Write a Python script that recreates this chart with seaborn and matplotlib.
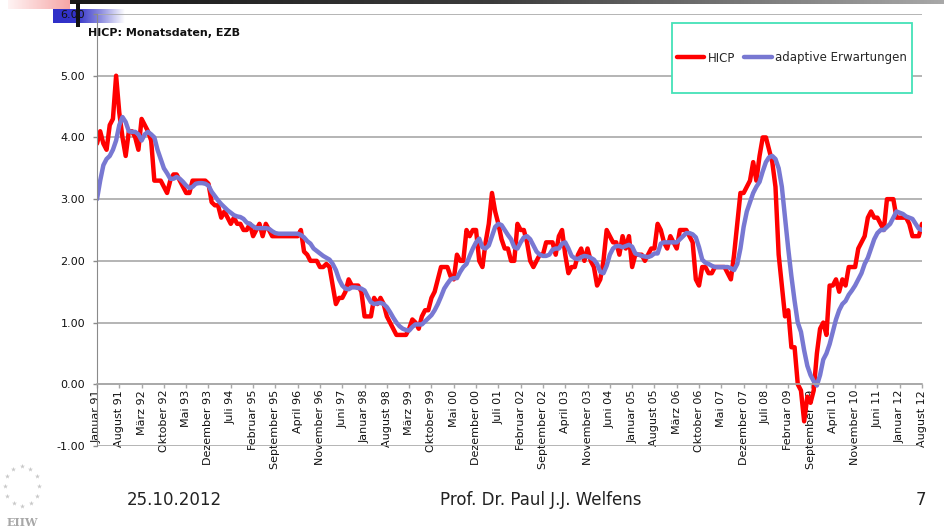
import numpy as np
import pandas as pd
import seaborn as sns
import matplotlib.pyplot as plt
from matplotlib.colors import LinearSegmentedColormap
from matplotlib.patches import Rectangle
from matplotlib.lines import Line2D

# HICP monthly rates, Januar 1991 - August 2012
hicp = [
    3.9, 4.1, 3.9, 3.8, 4.2, 4.3, 5.0, 4.4, 4.0, 3.7, 4.1, 4.1,      # 1991
    4.0, 3.8, 4.3, 4.2, 4.1, 3.95, 3.3, 3.3, 3.3, 3.2, 3.1, 3.3,     # 1992
    3.4, 3.4, 3.3, 3.2, 3.1, 3.1, 3.3, 3.3, 3.3, 3.3, 3.3, 3.25,     # 1993
    2.95, 2.9, 2.9, 2.7, 2.8, 2.7, 2.6, 2.7, 2.6, 2.6, 2.5, 2.5,     # 1994
    2.6, 2.4, 2.5, 2.6, 2.4, 2.6, 2.5, 2.4, 2.4, 2.4, 2.4, 2.4,      # 1995
    2.4, 2.4, 2.4, 2.4, 2.5, 2.15, 2.1, 2.0, 2.0, 2.0, 1.9, 1.9,     # 1996
    1.95, 1.9, 1.6, 1.3, 1.4, 1.4, 1.5, 1.7, 1.6, 1.6, 1.6, 1.5,     # 1997
    1.1, 1.1, 1.1, 1.4, 1.3, 1.4, 1.3, 1.1, 1.0, 0.9, 0.8, 0.8,      # 1998
    0.8, 0.8, 0.9, 1.05, 1.0, 0.9, 1.1, 1.2, 1.2, 1.4, 1.5, 1.7,     # 1999
    1.9, 1.9, 1.9, 1.75, 1.7, 2.1, 2.0, 2.0, 2.5, 2.4, 2.5, 2.5,     # 2000
    2.0, 1.9, 2.3, 2.6, 3.1, 2.8, 2.6, 2.35, 2.2, 2.2, 2.0, 2.0,     # 2001
    2.6, 2.5, 2.5, 2.3, 2.0, 1.9, 2.0, 2.1, 2.1, 2.3, 2.3, 2.3,      # 2002
    2.1, 2.4, 2.5, 2.1, 1.8, 1.9, 1.9, 2.1, 2.2, 2.0, 2.2, 2.0,      # 2003
    1.9, 1.6, 1.7, 2.0, 2.5, 2.4, 2.3, 2.3, 2.1, 2.4, 2.2, 2.4,      # 2004
    1.9, 2.1, 2.1, 2.1, 2.0, 2.1, 2.2, 2.2, 2.6, 2.5, 2.3, 2.2,      # 2005
    2.4, 2.3, 2.2, 2.5, 2.5, 2.5, 2.4, 2.3, 1.7, 1.6, 1.9, 1.9,      # 2006
    1.8, 1.8, 1.9, 1.9, 1.9, 1.9, 1.8, 1.7, 2.1, 2.6, 3.1, 3.1,      # 2007
    3.2, 3.3, 3.6, 3.3, 3.7, 4.0, 4.0, 3.8, 3.6, 3.2, 2.1, 1.6,      # 2008
    1.1, 1.2, 0.6, 0.6, 0.0, -0.1, -0.6, -0.2, -0.3, -0.1, 0.5, 0.9, # 2009
    1.0, 0.8, 1.6, 1.6, 1.7, 1.5, 1.7, 1.6, 1.9, 1.9, 1.9, 2.2,      # 2010
    2.3, 2.4, 2.7, 2.8, 2.7, 2.7, 2.6, 2.5, 3.0, 3.0, 3.0, 2.7,      # 2011
    2.7, 2.7, 2.7, 2.6, 2.4, 2.4, 2.4, 2.6,                          # 2012
]

# adaptive Erwartungen
adaptive = [
    3.0, 3.3, 3.55, 3.65, 3.7, 3.8, 3.95, 4.2, 4.33, 4.25, 4.1, 4.09,
    4.09, 4.05, 3.95, 4.05, 4.09, 4.05, 4.0, 3.8, 3.65, 3.5, 3.42, 3.33,
    3.33, 3.36, 3.33, 3.28, 3.22, 3.18, 3.2, 3.25, 3.26, 3.26, 3.25, 3.22,
    3.12, 3.05, 2.98, 2.92, 2.87, 2.82, 2.78, 2.74, 2.72, 2.71, 2.68, 2.62,
    2.6, 2.56, 2.53, 2.53, 2.53, 2.53, 2.52, 2.48, 2.45, 2.44, 2.44, 2.44,
    2.44, 2.44, 2.44, 2.44, 2.42, 2.38, 2.32, 2.28, 2.2, 2.16, 2.12, 2.08,
    2.05, 2.02, 1.95, 1.85, 1.7, 1.6, 1.55, 1.54, 1.57, 1.57, 1.56, 1.55,
    1.52, 1.42, 1.33, 1.3, 1.31, 1.32, 1.3, 1.25, 1.17, 1.08, 1.0, 0.94,
    0.9, 0.88, 0.87, 0.93, 0.97, 0.97, 0.97, 1.02, 1.07, 1.12, 1.2, 1.3,
    1.42, 1.55, 1.63, 1.7, 1.72, 1.72, 1.82, 1.9, 1.95, 2.08, 2.2, 2.3,
    2.36, 2.22, 2.2, 2.25, 2.4, 2.55, 2.6, 2.58, 2.5, 2.42, 2.35, 2.22,
    2.2, 2.3, 2.38, 2.4, 2.35, 2.25, 2.15, 2.1, 2.08, 2.08, 2.1, 2.18,
    2.2, 2.2, 2.28, 2.3, 2.2, 2.08, 2.04, 2.03, 2.06, 2.08, 2.07, 2.05,
    2.02, 1.95, 1.82, 1.8, 1.92, 2.1, 2.2, 2.24, 2.24, 2.22, 2.24, 2.26,
    2.23, 2.12, 2.1, 2.08, 2.07, 2.06, 2.08, 2.12, 2.12, 2.28, 2.3, 2.3,
    2.3, 2.3, 2.3, 2.35, 2.4, 2.45, 2.45, 2.43, 2.38, 2.22, 2.02, 1.97,
    1.95, 1.92, 1.9, 1.9, 1.9, 1.9, 1.9, 1.88, 1.85, 1.95, 2.2, 2.55,
    2.8, 2.95, 3.1, 3.2, 3.28, 3.45, 3.6, 3.68, 3.7, 3.65, 3.5, 3.2,
    2.7, 2.2, 1.75, 1.35, 1.0, 0.85, 0.55, 0.3, 0.15, 0.05, -0.02, 0.15,
    0.4, 0.5, 0.65, 0.85, 1.05, 1.2, 1.3, 1.35, 1.45, 1.52, 1.6, 1.7,
    1.8, 1.95, 2.05, 2.2, 2.35, 2.45, 2.5, 2.5, 2.55, 2.6, 2.7, 2.8,
    2.78, 2.76, 2.72, 2.7, 2.68, 2.6, 2.52, 2.5,
]

tick_labels = [
    'Januar 91', 'August 91', 'März 92', 'Oktober 92', 'Mai 93', 'Dezember 93',
    'Juli 94', 'Februar 95', 'September 95', 'April 96', 'November 96', 'Juni 97',
    'Januar 98', 'August 98', 'März 99', 'Oktober 99', 'Mai 00', 'Dezember 00',
    'Juli 01', 'Februar 02', 'September 02', 'April 03', 'November 03', 'Juni 04',
    'Januar 05', 'August 05', 'März 06', 'Oktober 06', 'Mai 07', 'Dezember 07',
    'Juli 08', 'Februar 09', 'September 09', 'April 10', 'November 10', 'Juni 11',
    'Januar 12', 'August 12',
]

df = pd.DataFrame({'monat': np.arange(len(hicp)), 'HICP': hicp,
                   'adaptive Erwartungen': adaptive})

sns.set_style('white')
plt.rcParams['font.family'] = ['DejaVu Sans']

W, H = 945, 529
fig = plt.figure(figsize=(W / 100, H / 100), dpi=100)


def px_axes(x0, y0, x1, y1):
    # figure axes from pixel box (top-left origin)
    return fig.add_axes([x0 / W, 1 - y1 / H, (x1 - x0) / W, (y1 - y0) / H])


def gradient(box, colors):
    a = px_axes(*box)
    cmap = LinearSegmentedColormap.from_list('g', colors)
    a.imshow(np.linspace(0, 1, 256)[None, :], aspect='auto', cmap=cmap,
             extent=[0, 1, 0, 1])
    a.axis('off')
    return a


# slide decoration
gradient((43, 0, 945, 4), ['#161616', '#3c3c3c', '#a8a8a8'])
gradient((8, 0, 70, 9), ['#fff4f4', '#f6a6a6'])
gradient((53, 9, 125, 23), ['#2f2fc8', '#3434c8', '#8e8ee0', '#ffffff'])
bar = px_axes(76, 3, 80, 27)
bar.set_facecolor('#111111')
bar.set_xticks([])
bar.set_yticks([])
for s in bar.spines.values():
    s.set_visible(False)

# main chart
ax = px_axes(97, 14, 922, 446)
ax.set_facecolor('none')

sns.lineplot(data=df, x='monat', y='HICP', color='#ff0000', linewidth=3.2,
             ax=ax, legend=False, solid_joinstyle='round', solid_capstyle='round')
sns.lineplot(data=df, x='monat', y='adaptive Erwartungen', color='#7878d2',
             linewidth=3.2, ax=ax, legend=False, solid_joinstyle='round',
             solid_capstyle='round')

ax.set_xlim(0, len(hicp) - 1)
ax.set_ylim(-1, 6)
ax.set_xlabel('')
ax.set_ylabel('')

ax.set_yticks(np.arange(-1, 7))
ax.set_yticklabels([f'{v:.2f}' for v in np.arange(-1, 7)])
ax.set_xticks(np.arange(0, len(hicp), 7))
ax.set_xticklabels(tick_labels)

ax.grid(axis='y', color='#a8a8a8', linewidth=1.2)
ax.grid(axis='x', visible=False)
ax.set_axisbelow(True)
for s in ['top', 'right']:
    ax.spines[s].set_visible(False)
ax.spines['left'].set_color('#8a8a8a')
ax.spines['bottom'].set_color('#a8a8a8')
ax.spines['bottom'].set_linewidth(1.2)
ax.spines['bottom'].set_position(('data', 0))
ax.tick_params(axis='y', direction='out', length=3, width=1, color='#8a8a8a',
               pad=5.5, labelcolor='#111111', labelsize=8, left=True)
ax.tick_params(axis='x', direction='out', length=3, width=1, color='#a8a8a8',
               pad=1, labelcolor='#111111', labelsize=8, bottom=True,
               labelrotation=90)

# legend box
lx0, ly0 = (672 - 97) / 825, (446 - 93) / 432
lw, lh = 240 / 825, 70 / 432
ax.add_patch(Rectangle((lx0, ly0), lw, lh, transform=ax.transAxes,
                       facecolor='white', edgecolor='#44e2b8', linewidth=1.3,
                       zorder=6, clip_on=False))
handles = [Line2D([], [], color='#ff0000', linewidth=3.2, solid_capstyle='round'),
           Line2D([], [], color='#7878d2', linewidth=3.2, solid_capstyle='round')]
leg = ax.legend(handles, ['HICP', 'adaptive Erwartungen'], loc='center',
                bbox_to_anchor=(lx0 + lw / 2, ly0 + lh / 2), ncol=2,
                frameon=False, fontsize=8.5, handlelength=2.3,
                handletextpad=0.3, columnspacing=0.8)
leg.set_zorder(7)

fig.text(88 / W, 1 - 33 / H, 'HICP: Monatsdaten, EZB', fontsize=8,
         fontweight='bold', va='center', ha='left', color='#111111')

# footer
fig.text(127 / W, 1 - 500 / H, '25.10.2012', fontsize=12, va='center',
         ha='left', color='#222222')
fig.text(541 / W, 1 - 500 / H, 'Prof. Dr. Paul J.J. Welfens', fontsize=12,
         va='center', ha='center', color='#222222')
fig.text(921 / W, 1 - 500 / H, '7', fontsize=12, va='center', ha='center',
         color='#222222')

# EIIW logo
logo = px_axes(0, 458, 46, 529)
logo.set_xlim(0, 46)
logo.set_ylim(71, 0)
ang = np.linspace(0, 2 * np.pi, 13)[:-1]
logo.scatter(22 + 17 * np.cos(ang), 28 + 20 * np.sin(ang), marker='*', s=14,
             color='#c8c8c8', linewidths=0)
logo.text(22, 64, 'EIIW', fontsize=8, fontweight='bold', family='DejaVu Serif',
          color='#a8a8a8', ha='center', va='center')
logo.axis('off')

fig.savefig('out.png', dpi=100)
